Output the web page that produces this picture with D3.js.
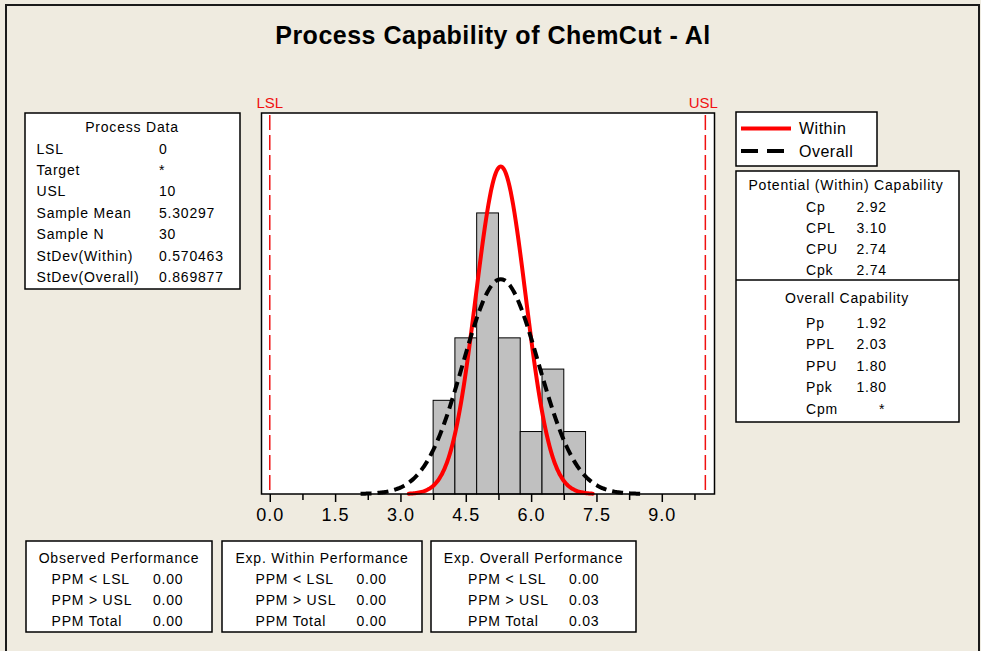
<!DOCTYPE html>
<html>
<head>
<meta charset="utf-8">
<script src="https://cdn.jsdelivr.net/npm/d3@7"></script>
<style>
  html, body { margin: 0; padding: 0; background: #EFEBE0; }
  svg text { font-family: "Liberation Sans", Arial, sans-serif; fill: #000; }
</style>
</head>
<body>
<div id="chart"></div>
<script>
// Histogram data (bins of width 0.5)
const binStarts = [3.75, 4.25, 4.75, 5.25, 5.75, 6.25, 6.75];
const binWidth = 0.5;
const binCounts = [3, 5, 9, 5, 2, 4, 2];

// Spec limits
const LSL = 0;
const USL = 10;

// Process data
const processLabels = ["LSL", "Target", "USL", "Sample Mean", "Sample N", "StDev(Within)", "StDev(Overall)"];
const processValues = ["0", "*", "10", "5.30297", "30", "0.570463", "0.869877"];
const sampleMean = 5.30297;
const sampleN = 30;
const sdWithin = 0.570463;
const sdOverall = 0.869877;

// Capability
const withinLabels = ["Cp", "CPL", "CPU", "Cpk"];
const withinValues = ["2.92", "3.10", "2.74", "2.74"];
const overallLabels = ["Pp", "PPL", "PPU", "Ppk", "Cpm"];
const overallValues = ["1.92", "2.03", "1.80", "1.80", "*"];

// Performance boxes
const perfTitles = ["Observed Performance", "Exp. Within Performance", "Exp. Overall Performance"];
const perfLabels = ["PPM < LSL", "PPM > USL", "PPM Total"];
const perfValues = [
    ["0.00", "0.00", "0.00"],
    ["0.00", "0.00", "0.00"],
    ["0.00", "0.03", "0.03"]
];

// Axis ticks
const majorTicks = [0, 1.5, 3, 4.5, 6, 7.5, 9];
const minorTicks = [0.75, 2.25, 3.75, 5.25, 6.75, 8.25, 9.75];

const W = 981, H = 651;
const svg = d3.select("#chart").append("svg")
    .attr("width", W).attr("height", H);

svg.append("rect").attr("width", W).attr("height", H).attr("fill", "#EFEBE0");

// outer frame (top, left, right)
svg.append("path")
    .attr("d", `M6,${H} L6,5 L979,5 L979,${H}`)
    .attr("fill", "none").attr("stroke", "#1a1a1a").attr("stroke-width", 2);

// Title
svg.append("text")
    .attr("x", 493).attr("y", 44)
    .attr("text-anchor", "middle")
    .attr("font-size", "25px").attr("font-weight", "bold")
    .attr("letter-spacing", "0.5px")
    .text("Process Capability of ChemCut - Al");

// Plot area
const plot = { left: 261.5, right: 714.5, top: 113, bottom: 494 };
const x = d3.scaleLinear().domain([-0.19, 10.21]).range([plot.left, plot.right]);
const y = d3.scaleLinear().domain([0, 12.2]).range([plot.bottom, plot.top]);

svg.append("rect")
    .attr("x", plot.left).attr("y", plot.top)
    .attr("width", plot.right - plot.left).attr("height", plot.bottom - plot.top)
    .attr("fill", "#fff");

// bars
svg.append("g").selectAll("rect")
    .data(binStarts)
    .enter().append("rect")
    .attr("x", d => x(d))
    .attr("y", (d, i) => y(binCounts[i]))
    .attr("width", d => x(d + binWidth) - x(d))
    .attr("height", (d, i) => y(0) - y(binCounts[i]))
    .attr("fill", "#C0C0C0")
    .attr("stroke", "#000").attr("stroke-width", 1);

// fitted normal curves, scaled to counts
function normalCurve(mu, sd) {
    const pts = d3.range(-3.7, 3.7001, 0.05).map(z => {
        const v = mu + z * sd;
        const dens = Math.exp(-0.5 * z * z) / (sd * Math.sqrt(2 * Math.PI));
        return [v, dens * sampleN * binWidth];
    });
    return pts;
}
const line = d3.line().x(d => x(d[0])).y(d => y(d[1])).curve(d3.curveBasis);

svg.append("path")
    .datum(normalCurve(sampleMean, sdWithin))
    .attr("d", line)
    .attr("fill", "none").attr("stroke", "#FF0000").attr("stroke-width", 4)
    .attr("stroke-linecap", "round");

svg.append("path")
    .datum(normalCurve(sampleMean, sdOverall))
    .attr("d", line)
    .attr("fill", "none").attr("stroke", "#000").attr("stroke-width", 4)
    .attr("stroke-dasharray", "11,6");

// spec lines
[LSL, USL].forEach(v => {
    svg.append("line")
        .attr("x1", x(v)).attr("x2", x(v))
        .attr("y1", plot.top + 2).attr("y2", plot.bottom)
        .attr("stroke", "#F01010").attr("stroke-width", 1.5)
        .attr("stroke-dasharray", "15,5");
});
svg.append("text").attr("x", x(LSL)).attr("y", 108)
    .attr("text-anchor", "middle").attr("font-size", "15px")
    .style("fill", "#F01010").text("LSL");
svg.append("text").attr("x", x(USL) - 2).attr("y", 108)
    .attr("text-anchor", "middle").attr("font-size", "15px")
    .style("fill", "#F01010").text("USL");

// plot frame
svg.append("rect")
    .attr("x", plot.left).attr("y", plot.top)
    .attr("width", plot.right - plot.left).attr("height", plot.bottom - plot.top)
    .attr("fill", "none").attr("stroke", "#000").attr("stroke-width", 1.5);

// x axis
const xAxis = d3.axisBottom(x)
    .tickValues(majorTicks)
    .tickFormat(d3.format(".1f"))
    .tickSizeInner(8).tickSizeOuter(0).tickPadding(6);
const ax = svg.append("g")
    .attr("transform", `translate(0,${plot.bottom})`)
    .call(xAxis);
ax.select(".domain").remove();
ax.selectAll("line").attr("stroke", "#000").attr("stroke-width", 1.5);
ax.selectAll("text")
    .attr("font-size", "18px").attr("letter-spacing", "1px")
    .attr("font-family", "'Liberation Sans', Arial, sans-serif")
    .attr("fill", "#000");

const axMinor = d3.axisBottom(x).tickValues(minorTicks).tickFormat("")
    .tickSizeInner(6).tickSizeOuter(0);
const axm = svg.append("g")
    .attr("transform", `translate(0,${plot.bottom})`)
    .call(axMinor);
axm.select(".domain").remove();
axm.selectAll("line").attr("stroke", "#000").attr("stroke-width", 1.5);

// helpers
function box(x0, y0, x1, y1) {
    svg.append("rect")
        .attr("x", x0).attr("y", y0)
        .attr("width", x1 - x0).attr("height", y1 - y0)
        .attr("fill", "#fff").attr("stroke", "#000").attr("stroke-width", 1.5);
}
function label(tx, ty, s, anchor) {
    svg.append("text")
        .attr("x", tx).attr("y", ty)
        .attr("text-anchor", anchor || "start")
        .attr("font-size", "14px").attr("letter-spacing", "0.8px")
        .text(s);
}

// Process Data box
box(25, 113, 240, 289);
label(132, 132, "Process Data", "middle");
processLabels.forEach((s, i) => {
    label(36.5, 153.5 + i * 21.4, s);
    label(159, 153.5 + i * 21.4, processValues[i]);
});

// Legend
box(736, 112, 877, 166);
svg.append("line").attr("x1", 741).attr("x2", 791).attr("y1", 128.5).attr("y2", 128.5)
    .attr("stroke", "#FF0000").attr("stroke-width", 4);
svg.append("line").attr("x1", 741).attr("x2", 791).attr("y1", 151).attr("y2", 151)
    .attr("stroke", "#000").attr("stroke-width", 4).attr("stroke-dasharray", "17,9");
svg.append("text").attr("x", 799).attr("y", 133.5)
    .attr("font-size", "16px").attr("letter-spacing", "0.5px").text("Within");
svg.append("text").attr("x", 799).attr("y", 156.5)
    .attr("font-size", "16px").attr("letter-spacing", "0.5px").text("Overall");

// Capability box
box(736, 171, 959, 422);
svg.append("line").attr("x1", 736).attr("x2", 959).attr("y1", 280).attr("y2", 280)
    .attr("stroke", "#000").attr("stroke-width", 1.5);
label(846, 190, "Potential (Within) Capability", "middle");
withinLabels.forEach((s, i) => {
    label(806, 211.5 + i * 21.1, s);
    label(856.5, 211.5 + i * 21.1, withinValues[i]);
});
label(847, 302.5, "Overall Capability", "middle");
overallLabels.forEach((s, i) => {
    const v = overallValues[i];
    label(806, 327.5 + i * 21.6, s);
    label(v === "*" ? 879 : 856.5, 327.5 + i * 21.6, v);
});

// Performance boxes
const perfBoxes = [[26, 212], [222, 422], [431, 636]];
const perfLabelX = [51.5, 255.5, 468];
const perfValueX = [153, 356.5, 569];
perfBoxes.forEach((b, k) => {
    box(b[0], 541, b[1], 632);
    label((b[0] + b[1]) / 2, 562.5, perfTitles[k], "middle");
    perfLabels.forEach((s, i) => {
        label(perfLabelX[k], 584 + i * 21, s);
        label(perfValueX[k], 584 + i * 21, perfValues[k][i]);
    });
});
</script>
</body>
</html>
